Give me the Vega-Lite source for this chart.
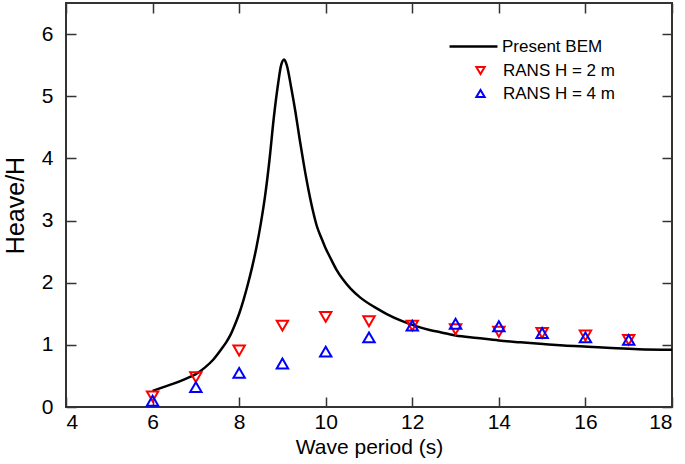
{
  "$schema": "https://vega.github.io/schema/vega-lite/v6.json",
  "width": 606,
  "height": 404,
  "autosize": {"type": "none"},
  "padding": {"left": 66, "top": 3, "right": 13, "bottom": 57},
  "background": "white",
  "config": {
    "font": "Liberation Sans",
    "view": {"stroke": "#333333", "strokeWidth": 2},
    "axis": {
      "grid": false,
      "domain": false,
      "tickColor": "#333333",
      "tickWidth": 1.5,
      "tickSize": -10,
      "labelFont": "Liberation Sans",
      "labelFontSize": 21,
      "labelColor": "black",
      "titleFont": "Liberation Sans",
      "titleFontWeight": "normal",
      "titleColor": "black"
    },
    "legend": {
      "labelFont": "Liberation Sans",
      "labelFontSize": 17,
      "labelColor": "black",
      "padding": 0
    }
  },
  "datasets": {
    "bem": [
      {"T": 6.0, "v": 0.26, "series": "Present BEM"},
      {"T": 6.25, "v": 0.32, "series": "Present BEM"},
      {"T": 6.5, "v": 0.38, "series": "Present BEM"},
      {"T": 6.75, "v": 0.45, "series": "Present BEM"},
      {"T": 7.0, "v": 0.53, "series": "Present BEM"},
      {"T": 7.2, "v": 0.63, "series": "Present BEM"},
      {"T": 7.4, "v": 0.76, "series": "Present BEM"},
      {"T": 7.6, "v": 0.94, "series": "Present BEM"},
      {"T": 7.7, "v": 1.04, "series": "Present BEM"},
      {"T": 7.8, "v": 1.16, "series": "Present BEM"},
      {"T": 7.9, "v": 1.32, "series": "Present BEM"},
      {"T": 8.0, "v": 1.5, "series": "Present BEM"},
      {"T": 8.1, "v": 1.72, "series": "Present BEM"},
      {"T": 8.2, "v": 1.97, "series": "Present BEM"},
      {"T": 8.3, "v": 2.25, "series": "Present BEM"},
      {"T": 8.4, "v": 2.57, "series": "Present BEM"},
      {"T": 8.5, "v": 2.95, "series": "Present BEM"},
      {"T": 8.6, "v": 3.4, "series": "Present BEM"},
      {"T": 8.7, "v": 3.97, "series": "Present BEM"},
      {"T": 8.8, "v": 4.65, "series": "Present BEM"},
      {"T": 8.9, "v": 5.2, "series": "Present BEM"},
      {"T": 8.97, "v": 5.5, "series": "Present BEM"},
      {"T": 9.04, "v": 5.59, "series": "Present BEM"},
      {"T": 9.1, "v": 5.5, "series": "Present BEM"},
      {"T": 9.2, "v": 5.15, "series": "Present BEM"},
      {"T": 9.3, "v": 4.75, "series": "Present BEM"},
      {"T": 9.4, "v": 4.3, "series": "Present BEM"},
      {"T": 9.5, "v": 3.88, "series": "Present BEM"},
      {"T": 9.6, "v": 3.5, "series": "Present BEM"},
      {"T": 9.7, "v": 3.17, "series": "Present BEM"},
      {"T": 9.8, "v": 2.9, "series": "Present BEM"},
      {"T": 9.9, "v": 2.72, "series": "Present BEM"},
      {"T": 10.0, "v": 2.55, "series": "Present BEM"},
      {"T": 10.1, "v": 2.41, "series": "Present BEM"},
      {"T": 10.24, "v": 2.22, "series": "Present BEM"},
      {"T": 10.4, "v": 2.05, "series": "Present BEM"},
      {"T": 10.58, "v": 1.9, "series": "Present BEM"},
      {"T": 10.8, "v": 1.76, "series": "Present BEM"},
      {"T": 11.12, "v": 1.61, "series": "Present BEM"},
      {"T": 11.4, "v": 1.5, "series": "Present BEM"},
      {"T": 11.74, "v": 1.39, "series": "Present BEM"},
      {"T": 12.05, "v": 1.31, "series": "Present BEM"},
      {"T": 12.4, "v": 1.24, "series": "Present BEM"},
      {"T": 12.67, "v": 1.2, "series": "Present BEM"},
      {"T": 13.0, "v": 1.15, "series": "Present BEM"},
      {"T": 13.5, "v": 1.11, "series": "Present BEM"},
      {"T": 14.0, "v": 1.07, "series": "Present BEM"},
      {"T": 14.5, "v": 1.04, "series": "Present BEM"},
      {"T": 15.08, "v": 1.01, "series": "Present BEM"},
      {"T": 15.5, "v": 0.99, "series": "Present BEM"},
      {"T": 16.06, "v": 0.97, "series": "Present BEM"},
      {"T": 16.6, "v": 0.95, "series": "Present BEM"},
      {"T": 17.22, "v": 0.93, "series": "Present BEM"},
      {"T": 18.0, "v": 0.92, "series": "Present BEM"}
    ],
    "rans": [
      {"T": 6, "v": 0.17, "series": "RANS H = 2 m"},
      {"T": 7, "v": 0.48, "series": "RANS H = 2 m"},
      {"T": 8, "v": 0.91, "series": "RANS H = 2 m"},
      {"T": 9, "v": 1.31, "series": "RANS H = 2 m"},
      {"T": 10, "v": 1.45, "series": "RANS H = 2 m"},
      {"T": 11, "v": 1.38, "series": "RANS H = 2 m"},
      {"T": 12, "v": 1.31, "series": "RANS H = 2 m"},
      {"T": 13, "v": 1.25, "series": "RANS H = 2 m"},
      {"T": 14, "v": 1.21, "series": "RANS H = 2 m"},
      {"T": 15, "v": 1.19, "series": "RANS H = 2 m"},
      {"T": 16, "v": 1.15, "series": "RANS H = 2 m"},
      {"T": 17, "v": 1.08, "series": "RANS H = 2 m"},
      {"T": 6, "v": 0.1, "series": "RANS H = 4 m"},
      {"T": 7, "v": 0.32, "series": "RANS H = 4 m"},
      {"T": 8, "v": 0.55, "series": "RANS H = 4 m"},
      {"T": 9, "v": 0.7, "series": "RANS H = 4 m"},
      {"T": 10, "v": 0.89, "series": "RANS H = 4 m"},
      {"T": 11, "v": 1.12, "series": "RANS H = 4 m"},
      {"T": 12, "v": 1.31, "series": "RANS H = 4 m"},
      {"T": 13, "v": 1.34, "series": "RANS H = 4 m"},
      {"T": 14, "v": 1.3, "series": "RANS H = 4 m"},
      {"T": 15, "v": 1.19, "series": "RANS H = 4 m"},
      {"T": 16, "v": 1.12, "series": "RANS H = 4 m"},
      {"T": 17, "v": 1.08, "series": "RANS H = 4 m"}
    ]
  },
  "layer": [
    {
      "data": {"name": "bem"},
      "mark": {"type": "line", "strokeWidth": 2.5, "interpolate": "monotone"},
      "encoding": {
        "x": {
          "field": "T", "type": "quantitative",
          "scale": {"domain": [4, 18], "nice": false, "zero": false},
          "axis": {"orient": "bottom", "values": [4, 6, 8, 10, 12, 14, 16, 18], "title": "Wave period (s)", "titleFontSize": 21, "labelPadding": 14, "titlePadding": 4}
        },
        "y": {
          "field": "v", "type": "quantitative",
          "scale": {"domain": [0, 6.5], "nice": false},
          "axis": {"orient": "left", "values": [0, 1, 2, 3, 4, 5, 6], "title": "Heave/H", "titleFontSize": 25, "labelPadding": 23, "titlePadding": 13}
        },
        "stroke": {
          "field": "series", "type": "nominal",
          "scale": {"domain": ["Present BEM"], "range": ["black"]},
          "legend": {"title": null, "orient": "none", "legendX": 382, "legendY": 18, "symbolSize": 2300, "symbolStrokeWidth": 2.5, "labelOffset": 3}
        }
      }
    },
    {
      "data": {"name": "rans"},
      "mark": {"type": "point", "filled": false, "strokeWidth": 2, "size": 130, "opacity": 1},
      "encoding": {
        "x": {
          "field": "T", "type": "quantitative",
          "scale": {"domain": [4, 18], "nice": false, "zero": false},
          "axis": {"orient": "top", "values": [4, 6, 8, 10, 12, 14, 16, 18], "labels": false, "title": null}
        },
        "y": {
          "field": "v", "type": "quantitative",
          "scale": {"domain": [0, 6.5], "nice": false},
          "axis": {"orient": "right", "values": [0, 1, 2, 3, 4, 5, 6], "labels": false, "title": null}
        },
        "color": {
          "field": "series", "type": "nominal",
          "scale": {"domain": ["RANS H = 2 m", "RANS H = 4 m"], "range": ["#ff0000", "#0000ff"]},
          "legend": {"title": null, "orient": "none", "legendX": 406, "legendY": 59, "symbolSize": 70, "symbolStrokeWidth": 2, "labelOffset": 14, "rowPadding": 5}
        },
        "shape": {
          "field": "series", "type": "nominal",
          "scale": {"domain": ["RANS H = 2 m", "RANS H = 4 m"], "range": ["triangle-down", "triangle-up"]},
          "legend": {"title": null, "orient": "none", "legendX": 406, "legendY": 59, "symbolSize": 70, "symbolStrokeWidth": 2, "labelOffset": 14, "rowPadding": 5}
        }
      }
    }
  ],
  "resolve": {"axis": {"x": "independent", "y": "independent"}, "scale": {"x": "shared", "y": "shared"}}
}
